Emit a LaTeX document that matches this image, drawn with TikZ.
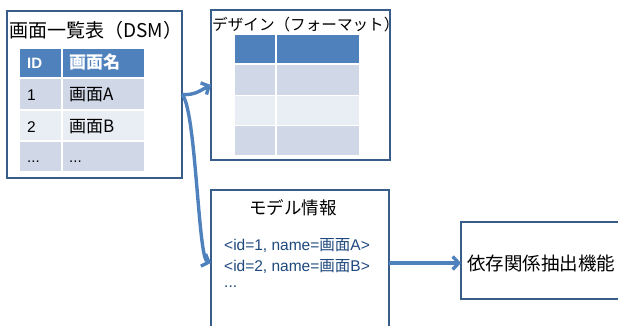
\documentclass[tikz,border=0pt]{standalone}
\usepackage{fontspec}
\setmainfont{Liberation Sans}
\newfontfamily\jp{Noto Sans CJK JP}
\usetikzlibrary{arrows.meta}
\definecolor{frame}{HTML}{385D8A}
\definecolor{flow}{HTML}{4F81BD}
\definecolor{headfill}{HTML}{4F81BD}
\definecolor{rowA}{HTML}{D0D8E8}
\definecolor{rowB}{HTML}{E9EDF4}
\definecolor{codeblue}{HTML}{1F497D}
\newcommand\fs[1]{\fontsize{#1}{#1}\selectfont}
\begin{document}
\begin{tikzpicture}[x=1pt,y=-1pt,
  box/.style={draw=frame, line width=1.8pt, fill=white, inner sep=0pt, outer sep=0pt},
  flowarrow/.style={draw=flow, line width=3.4pt, -{Straight Barb[length=6pt,width=13pt]}},
  grid/.style={draw=white, line width=1.3pt},
  title/.style={inner sep=0pt, text=black},
  cell/.style={anchor=base west, inner sep=0pt, text=black},
  headcell/.style={anchor=base west, inner sep=0pt, text=white, font=\bfseries\fs{15}},
  code/.style={anchor=base west, inner sep=0pt, text=codeblue, font=\fs{15.5}}]
\useasboundingbox (0,0) rectangle (618,326);
\clip (0,0) rectangle (618,326);

% --- boxes ---
\node[box, minimum width=175pt, minimum height=167pt] (dsm) at (94.5,94.5) {};
\node[box, minimum width=179pt, minimum height=150pt] (design) at (300.5,85) {};
\node[box, minimum width=178pt, minimum height=146pt] (model) at (300,263) {};
\node[box, minimum width=180pt, minimum height=77pt] (extract) at (551,260.5) {};

% --- screen list table ---
\fill[headfill] (20,49) rectangle (144,78);
\fill[rowA] (20,78) rectangle (144,110);
\fill[rowB] (20,110) rectangle (144,141);
\fill[rowA] (20,141) rectangle (144,171);
\draw[grid] (62,49) -- (62,171);
\draw[grid] (20,78) -- (144,78);
\draw[grid] (20,110) -- (144,110);
\draw[grid] (20,141) -- (144,141);

\node[title, anchor=west, font=\jp\fs{19}] (dsmtitle) at (9,30) {画面一覧表（DSM）};
\node[headcell] (hid) at (27,69) {ID};
\node[headcell, font=\jp\bfseries\fs{17}] (hname) at (69,69) {画面名};
\node[cell, font=\fs{15.5}] (id1) at (27,101) {1};
\node[cell, font=\jp\fs{17}] (name1) at (69,101) {画面A};
\node[cell, font=\fs{15.5}] (id2) at (27,132) {2};
\node[cell, font=\jp\fs{17}] (name2) at (69,132) {画面B};
\node[cell, font=\fs{15}] (id3) at (27,162) {...};
\node[cell, font=\fs{15}] (name3) at (69,162) {...};

% --- design format table ---
\fill[headfill] (235,35) rectangle (359,63);
\fill[rowA] (235,65) rectangle (359,95.5);
\fill[rowB] (235,95.5) rectangle (359,125.5);
\fill[rowA] (235,125.5) rectangle (359,155);
\draw[grid] (276,35) -- (276,155);
\draw[grid] (235,95.5) -- (359,95.5);
\draw[grid] (235,125.5) -- (359,125.5);

\node[title, anchor=west, font=\jp\fs{15.6}] (designtitle) at (212,25) {デザイン（フォーマット）};

% --- model information ---
\node[title, font=\jp\fs{17.5}] (modeltitle) at (293,208) {モデル情報};
\node[code] (line1) at (224,250) {<id=1, name={\jp 画面}A>};
\node[code] (line2) at (224,271) {<id=2, name={\jp 画面}B>};
\node[code] (line3) at (224,287) {...};

% --- extraction function ---
\node[title, anchor=west, font=\jp\fs{18.5}] (extracttitle) at (467,263) {依存関係抽出機能};

% --- connectors ---
\draw[flowarrow] (dsm.east) .. controls +(13,1) and +(-10,5) .. (design.west);
\draw[flowarrow] (dsm.east) .. controls (196,108) and (198,258) .. (model.west);
\draw[flowarrow] (model.east) -- (model.east -| extract.west);
\end{tikzpicture}
\end{document}
